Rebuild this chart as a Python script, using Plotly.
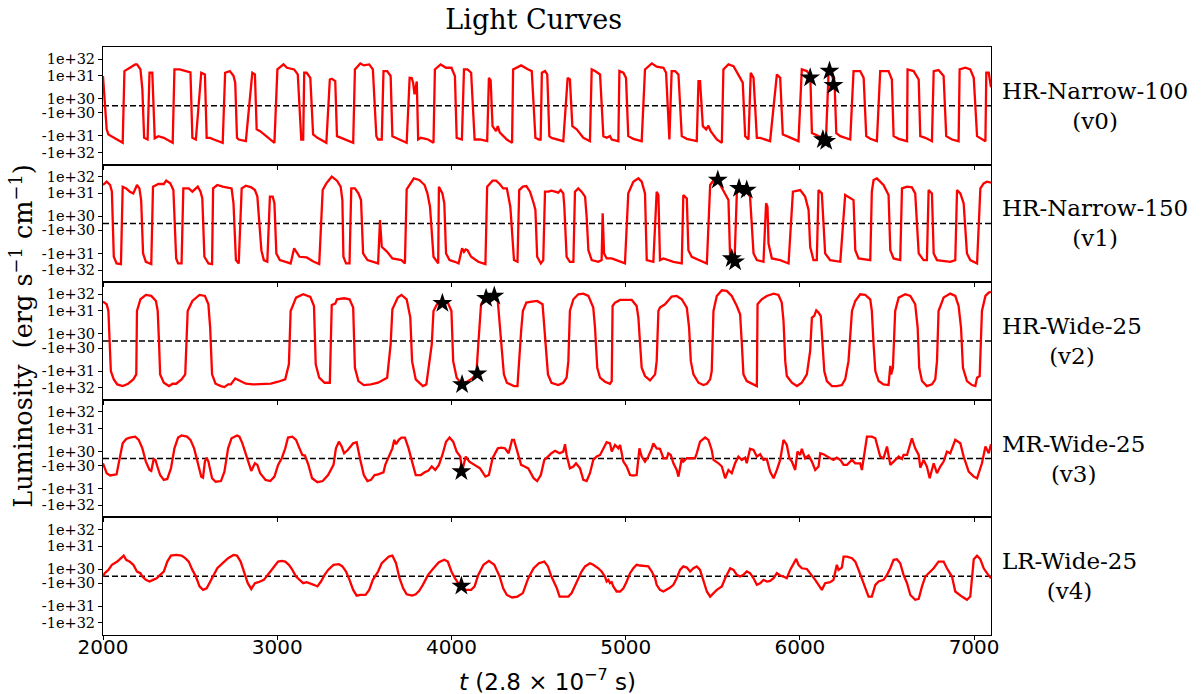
import plotly.graph_objects as go
from plotly.subplots import make_subplots

# Luminosity is stored as a symlog level: +/-1 at +/-1e30, +/-2 at +/-1e31,
# +/-3 at +/-1e32 (linear between -1e30 and 1e30).

t_v0 = [2000, 2021, 2031, 2060, 2113, 2123, 2160, 2185, 2195, 2215, 2226, 2236, 2256, 2267, 2283, 2297, 2318, 2349, 2400,
        2410, 2440, 2470, 2502, 2513, 2533, 2564, 2585, 2595, 2615, 2636, 2687, 2701, 2728, 2749, 2759, 2769, 2779, 2820,
        2857, 2872, 2882, 2902, 2984, 3001, 3036, 3056, 3097, 3118, 3138, 3149, 3155, 3169, 3190, 3206, 3231, 3282, 3302,
        3313, 3333, 3343, 3364, 3436, 3446, 3477, 3497, 3528, 3549, 3569, 3579, 3600, 3610, 3631, 3651, 3661, 3692, 3743,
        3760, 3772, 3780, 3788, 3801, 3809, 3825, 3866, 3897, 3905, 3938, 3969, 4000, 4020, 4030, 4060, 4072, 4092, 4113,
        4133, 4164, 4205, 4215, 4225, 4236, 4256, 4266, 4277, 4318, 4348, 4354, 4400, 4441, 4461, 4482, 4502, 4512, 4519,
        4537, 4550, 4562, 4575, 4642, 4667, 4680, 4694, 4719, 4757, 4795, 4805, 4824, 4853, 4872, 4891, 4910, 4920, 4958,
        4964, 4987, 5002, 5015, 5044, 5092, 5111, 5150, 5178, 5217, 5232, 5251, 5264, 5284, 5303, 5322, 5351, 5408, 5418,
        5427, 5443, 5462, 5475, 5488, 5523, 5552, 5561, 5590, 5619, 5657, 5672, 5686, 5705, 5718, 5734, 5753, 5772, 5829,
        5868, 5887, 5902, 5925, 5992, 6011, 6040, 6060, 6069, 6107, 6136, 6150, 6165, 6184, 6200, 6209, 6232, 6289, 6308,
        6346, 6366, 6381, 6404, 6442, 6461, 6509, 6528, 6538, 6567, 6615, 6618, 6653, 6682, 6691, 6720, 6758, 6768, 6796,
        6825, 6840, 6873, 6911, 6917, 6950, 6978, 6998, 7017, 7045, 7065, 7070, 7084, 7097]
lum_v0 = [1.99, -1.72, -1.94, -2.10, -2.42, 2.28, 2.55, 2.68, 2.68, 2.38, 1.41, -2.12, -2.22, 2.18, 2.18, -2.15, -2.02,
          -2.12, -2.42, 2.38, 2.38, 2.28, 2.20, -2.12, -2.22, 2.18, 2.08, -2.12, -2.12, -2.22, -2.42, 2.18, 2.28, 2.00,
          1.70, -2.12, -2.22, -2.32, 2.18, 2.08, -1.72, -1.80, -2.42, 2.38, 2.68, 2.48, 2.38, 2.08, -2.22, -2.22, 2.18,
          2.18, 1.91, -1.94, -2.12, -2.42, 1.84, 1.87, 1.77, -2.02, -2.12, -2.42, 2.38, 2.74, 2.62, 2.68, 2.38, -2.02,
          -2.22, -2.22, 2.28, 2.28, 1.99, -2.02, -2.18, -2.42, 1.91, 1.90, 1.70, 1.19, 1.75, -2.22, -2.12, -2.22, -2.42,
          2.38, 2.68, 2.48, 2.48, 1.99, -2.12, -2.22, 2.38, 2.38, 2.18, -2.22, -2.22, -2.32, 1.91, 1.80, -1.58, -1.80,
          -1.58, -1.85, -2.22, -2.42, 2.38, 2.62, 2.38, 2.28, -2.12, -2.22, -2.22, 2.18, 2.28, 2.08, -2.02, -2.12, -2.32,
          1.91, 1.84, -1.58, -1.72, -2.12, -2.32, 2.38, 2.28, 2.08, -2.02, -2.12, -2.02, -2.22, -2.32, 2.28, 2.18, 1.91,
          -2.02, -2.18, -2.32, 2.38, 2.74, 2.54, 2.48, 2.18, -2.22, 2.28, 2.28, 2.08, -2.02, -2.18, -2.32, 1.77, 1.77,
          -1.58, -1.72, -1.56, -1.80, -2.22, -2.42, 2.38, 2.68, 2.58, 1.91, 1.70, -2.02, -2.22, 2.18, 1.91, -2.12, -2.12,
          -2.32, 2.08, 1.91, -1.94, -2.02, -2.32, 2.38, 2.28, 2.00, -1.88, -2.02, -2.12, -2.15, 2.28, 2.08, 1.50, -1.88,
          -2.02, -2.22, 2.28, 2.28, 1.91, -2.02, -2.18, -2.32, 2.28, 2.28, 1.84, -2.02, -2.18, -2.32, 2.38, 2.28, 1.84,
          -2.02, -2.12, -2.32, 2.28, 2.34, 1.99, -2.02, -2.22, -2.32, 2.38, 2.48, 2.38, 1.91, -2.02, -2.18, -2.32, 2.18,
          2.18, 1.50]

t_v1 = [2000, 2021, 2041, 2051, 2062, 2078, 2103, 2113, 2133, 2154, 2174, 2195, 2209, 2219, 2230, 2246, 2277, 2287, 2318,
        2349, 2363, 2386, 2404, 2420, 2431, 2451, 2461, 2492, 2513, 2544, 2560, 2570, 2582, 2605, 2626, 2632, 2656, 2687,
        2738, 2749, 2763, 2779, 2796, 2820, 2851, 2872, 2886, 2909, 2923, 2943, 2958, 2974, 2984, 2995, 3015, 3046, 3077,
        3097, 3108, 3128, 3169, 3210, 3241, 3261, 3282, 3313, 3343, 3364, 3374, 3380, 3395, 3415, 3425, 3446, 3466, 3481,
        3493, 3518, 3579, 3590, 3600, 3631, 3661, 3713, 3733, 3743, 3784, 3815, 3846, 3862, 3877, 3897, 3924, 3928, 3948,
        3959, 3969, 3989, 4020, 4041, 4061, 4072, 4082, 4092, 4113, 4154, 4195, 4205, 4236, 4256, 4277, 4297, 4318, 4338,
        4359, 4379, 4389, 4410, 4430, 4451, 4472, 4482, 4492, 4513, 4527, 4537, 4556, 4575, 4594, 4613, 4627, 4642, 4648,
        4661, 4680, 4700, 4709, 4728, 4747, 4767, 4776, 4786, 4805, 4843, 4862, 4868, 4876, 4891, 4920, 4948, 4996, 5015,
        5044, 5073, 5092, 5111, 5121, 5159, 5178, 5188, 5197, 5217, 5274, 5322, 5331, 5351, 5360, 5379, 5427, 5466, 5485,
        5513, 5533, 5561, 5590, 5600, 5605, 5625, 5638, 5657, 5686, 5714, 5734, 5753, 5791, 5806, 5814, 5820, 5839, 5887,
        5935, 5960, 5983, 6002, 6030, 6050, 6059, 6078, 6097, 6107, 6126, 6145, 6174, 6232, 6260, 6289, 6308, 6318, 6337,
        6404, 6413, 6423, 6442, 6480, 6509, 6519, 6538, 6576, 6586, 6615, 6643, 6662, 6682, 6710, 6729, 6739, 6758, 6768,
        6787, 6863, 6892, 6902, 6921, 6940, 6959, 6978, 7017, 7036, 7055, 7074, 7097]
lum_v1 = [2.50, 2.70, 2.50, 2.10, -2.20, -2.60, -2.64, 2.40, 2.30, 2.10, 2.00, 2.50, 2.30, 1.71, -2.00, -2.50, -2.64,
          2.40, 2.56, 2.56, 2.76, 2.60, 2.20, -2.30, -2.60, -2.60, 2.30, 2.30, 2.10, 2.40, 2.10, 1.78, -2.20, -2.60,
          -2.64, 2.30, 2.50, 2.40, 2.30, 1.57, -2.40, -2.60, 2.30, 2.46, 2.36, 2.20, 1.86, -1.86, -2.40, -2.50, 1.86,
          1.86, 1.57, -2.00, -2.40, -2.50, -2.60, -1.78, -1.93, -2.20, -2.24, -2.50, -2.64, 2.20, 2.60, 3.00, 2.76,
          2.40, 1.71, -2.20, -2.60, -2.60, 2.30, 2.30, 2.00, 1.71, -2.00, -2.40, -2.60, 0.48, -1.71, -1.93, -2.30,
          -2.40, -2.60, 2.24, 2.90, 2.80, 2.50, 2.00, 1.42, -2.20, -2.60, 2.40, 2.00, 1.57, -2.00, -2.40, -2.50, -2.60,
          -1.78, -1.93, -1.83, -1.86, -2.20, -2.50, -2.64, 2.40, 2.76, 2.76, 2.56, 2.30, 2.30, 1.42, -2.40, -2.50, 2.20,
          2.40, 2.44, 2.10, 1.57, 1.28, -2.20, -2.60, -2.40, 2.10, 2.10, 2.16, 2.10, 2.04, 2.20, 2.00, 1.42, -2.20,
          -2.50, -2.50, 2.10, 2.30, 2.10, 1.86, 0.95, -1.86, -2.40, -2.50, -2.40, 1.13, -2.00, -2.30, -2.30, -2.40,
          -2.60, 2.00, 2.70, 2.90, 2.70, 2.00, -2.40, -2.50, 2.10, 1.93, -2.40, -2.30, -2.50, -2.60, 1.93, 1.78, -1.86,
          -2.20, -2.40, -2.60, 2.50, 2.90, 2.70, 2.20, 1.71, -2.40, -2.35, -2.45, 2.00, 2.30, 2.20, 1.86, -2.00, -2.40,
          -2.50, 1.57, 1.42, -1.57, -2.30, -2.40, -2.60, 2.10, 2.16, 2.20, 1.86, 1.28, -1.71, -2.40, -2.40, 2.20, 2.00,
          -2.00, -2.40, -2.50, 1.93, 1.78, 1.71, -1.86, -2.30, -2.40, 2.10, 2.80, 2.90, 2.50, 1.93, -1.86, -2.30, -2.40,
          2.30, 2.40, 2.36, 2.00, -2.00, -2.40, -2.40, 2.20, 2.00, -2.00, -2.40, -2.50, -2.40, 2.20, 2.00, 1.57, -2.00,
          -2.40, -2.60, 2.30, 2.60, 2.70, 2.64]

t_v2 = [2000, 2021, 2031, 2041, 2045, 2062, 2082, 2113, 2144, 2174, 2191, 2195, 2215, 2246, 2277, 2304, 2314, 2322, 2328,
        2349, 2379, 2400, 2420, 2451, 2472, 2486, 2513, 2554, 2585, 2605, 2615, 2626, 2646, 2677, 2697, 2718, 2734, 2759,
        2779, 2820, 2861, 2923, 2964, 3005, 3046, 3067, 3077, 3108, 3149, 3190, 3211, 3221, 3241, 3272, 3302, 3313, 3333,
        3343, 3384, 3415, 3436, 3446, 3466, 3497, 3538, 3579, 3631, 3651, 3661, 3692, 3713, 3743, 3764, 3774, 3795, 3836,
        3856, 3887, 3897, 3917, 3948, 3979, 4000, 4010, 4030, 4061, 4113, 4143, 4154, 4170, 4199, 4236, 4266, 4287, 4301,
        4318, 4359, 4379, 4395, 4400, 4410, 4430, 4461, 4492, 4523, 4539, 4554, 4574, 4613, 4642, 4661, 4671, 4680, 4700,
        4728, 4757, 4786, 4814, 4824, 4837, 4853, 4881, 4910, 4920, 4925, 4939, 4968, 5006, 5035, 5063, 5073, 5083, 5092,
        5111, 5140, 5169, 5178, 5188, 5197, 5226, 5245, 5264, 5293, 5322, 5351, 5364, 5374, 5389, 5418, 5446, 5466, 5485,
        5494, 5504, 5523, 5552, 5580, 5609, 5638, 5657, 5667, 5676, 5695, 5734, 5753, 5757, 5781, 5810, 5849, 5877, 5896,
        5906, 5916, 5925, 5954, 5983, 6011, 6040, 6059, 6069, 6082, 6094, 6107, 6120, 6132, 6140, 6155, 6184, 6212, 6241,
        6260, 6279, 6299, 6318, 6346, 6375, 6404, 6413, 6423, 6433, 6452, 6480, 6509, 6519, 6524, 6534, 6547, 6567, 6605,
        6634, 6662, 6676, 6685, 6701, 6729, 6758, 6777, 6787, 6796, 6825, 6863, 6892, 6911, 6925, 6936, 6959, 6988, 7007,
        7017, 7032, 7045, 7065, 7084, 7097]
lum_v2 = [2.56, 2.40, 2.00, -0.48, -2.00, -2.50, -2.80, -2.90, -2.76, -2.50, -2.20, 2.00, 2.70, 2.96, 2.90, 2.60, 2.00,
          -0.48, -2.20, -2.70, -2.90, -2.76, -2.76, -2.50, -2.20, 2.00, 2.60, 2.96, 2.90, 2.40, 1.28, -2.20, -2.76,
          -2.90, -2.96, -2.80, -2.80, -2.44, -2.56, -2.76, -2.80, -2.80, -2.76, -2.64, -2.50, -1.71, 2.00, 2.80, 3.00,
          2.84, 2.30, -1.71, -2.40, -2.70, -2.70, 2.36, 2.44, 2.70, 2.76, 2.70, 2.20, -1.86, -2.60, -2.84, -2.80, -2.70,
          -2.40, -0.48, 2.10, 2.80, 2.96, 2.70, 1.71, -1.57, -2.50, -2.90, -2.80, -0.48, 2.00, 2.40, 2.46, 2.50, 2.00,
          -1.57, -2.40, -2.80, -2.50, -2.20, -0.48, 2.40, 2.80, 2.90, 2.60, -0.48, -2.20, -2.70, -2.90, -2.90, 0.48,
          1.13, 2.00, 2.50, 2.56, 2.60, 2.40, 0.00, -2.20, -2.70, -2.84, -2.70, -2.40, -1.57, 2.00, 2.70, 3.00, 3.04,
          2.90, 2.20, 1.28, -1.86, -2.40, -2.64, -2.76, -2.60, 2.30, 2.50, 2.66, 2.66, 2.66, 2.30, 1.71, -0.48, -1.86,
          -2.30, -2.56, -2.20, -1.57, 2.00, 2.20, 2.40, 2.60, 2.86, 2.90, 2.70, 2.20, 1.28, -1.57, -2.20, -2.70, -2.84,
          -2.76, -2.50, -2.00, 2.00, 2.90, 3.24, 3.20, 2.90, 2.30, 1.86, -0.48, -2.20, -2.60, -2.80, -2.90, 2.40, 2.70,
          2.90, 3.04, 2.96, 2.50, 1.57, -1.57, -2.30, -2.70, -2.90, -2.70, -2.20, -1.13, 1.71, 1.78, 2.04, 1.93, 1.78,
          -0.48, -2.00, -2.60, -2.90, -2.90, -2.84, -2.50, -1.57, 2.00, 2.60, 3.00, 2.96, 2.70, 2.00, -0.48, -2.00,
          -2.60, -2.80, -2.84, -1.78, -2.20, -1.86, 2.00, 2.80, 3.00, 2.90, 2.40, 1.28, -1.86, -2.60, -2.90, -2.80,
          -2.50, -1.57, 2.00, 2.80, 3.04, 2.90, 2.30, 1.28, -1.86, -2.60, -2.84, -2.90, -2.40, -2.30, 2.00, 2.90, 3.10,
          3.14]

t_v3 = [2000, 2021, 2041, 2062, 2078, 2092, 2103, 2113, 2133, 2154, 2185, 2205, 2226, 2246, 2267, 2277, 2291, 2301, 2312,
        2328, 2349, 2369, 2390, 2410, 2431, 2451, 2482, 2502, 2523, 2544, 2564, 2574, 2585, 2595, 2605, 2626, 2646, 2677,
        2697, 2718, 2738, 2769, 2783, 2800, 2820, 2841, 2851, 2872, 2886, 2902, 2933, 2960, 2984, 3005, 3026, 3046, 3062,
        3087, 3108, 3128, 3144, 3159, 3179, 3200, 3231, 3261, 3292, 3323, 3337, 3354, 3370, 3384, 3405, 3436, 3456, 3477,
        3497, 3518, 3538, 3559, 3579, 3610, 3620, 3641, 3661, 3672, 3682, 3698, 3713, 3733, 3754, 3774, 3795, 3825, 3846,
        3866, 3887, 3907, 3928, 3948, 3969, 3989, 4010, 4030, 4051, 4061, 4082, 4103, 4133, 4164, 4195, 4215, 4236, 4266,
        4287, 4307, 4328, 4348, 4359, 4379, 4400, 4420, 4441, 4472, 4492, 4513, 4533, 4554, 4574, 4595, 4621, 4642, 4652,
        4661, 4680, 4700, 4715, 4738, 4757, 4776, 4795, 4814, 4834, 4853, 4872, 4891, 4910, 4920, 4939, 4958, 4968, 4987,
        5006, 5025, 5044, 5063, 5079, 5092, 5111, 5130, 5150, 5159, 5178, 5197, 5217, 5236, 5245, 5259, 5274, 5293, 5303,
        5312, 5322, 5331, 5351, 5379, 5398, 5408, 5427, 5456, 5475, 5494, 5504, 5533, 5552, 5571, 5590, 5609, 5628, 5647,
        5667, 5686, 5695, 5714, 5734, 5753, 5772, 5791, 5810, 5829, 5849, 5868, 5887, 5906, 5925, 5940, 5954, 5973, 5986,
        6002, 6011, 6030, 6050, 6069, 6088, 6107, 6117, 6136, 6155, 6174, 6193, 6212, 6232, 6251, 6270, 6299, 6318, 6346,
        6356, 6375, 6385, 6413, 6433, 6461, 6480, 6500, 6519, 6538, 6567, 6586, 6595, 6615, 6634, 6643, 6662, 6682, 6691,
        6710, 6729, 6745, 6768, 6787, 6806, 6825, 6844, 6863, 6892, 6921, 6940, 6969, 6998, 7017, 7045, 7065, 7084, 7097]
lum_v3 = [-0.67, -1.33, -1.43, -1.41, -1.38, -0.43, 0.76, 1.36, 1.55, 1.61, 1.65, 1.51, 1.14, -0.43, -1.19, -1.23, -0.05,
          -0.19, -1.04, -1.41, -1.62, -1.58, -1.12, 1.14, 1.61, 1.70, 1.65, 1.51, 1.14, -0.43, -1.48, -1.52, -0.43, 0.14,
          -0.43, -1.55, -1.70, -1.67, -1.26, 1.14, 1.58, 1.70, 1.65, 1.36, 0.76, -0.90, -1.23, -0.67, -0.90, -1.33,
          -1.62, -1.67, -1.48, -0.90, 0.05, 1.14, 1.61, 1.65, 1.51, 1.14, 0.52, 0.43, -0.90, -1.55, -1.72, -1.67, -1.41,
          -0.90, 1.14, 1.43, 1.22, 0.76, 1.07, 1.36, 1.41, -0.19, -1.41, -1.67, -1.62, -1.41, -1.38, -1.29, -0.90, 0.29,
          1.14, 1.51, 1.32, 1.51, 1.61, 1.61, 1.14, -0.43, -1.41, -1.41, -1.29, -1.23, -1.04, -1.19, -0.90, 0.52, 1.43,
          1.61, 1.43, 1.00, 0.29, -1.26, 0.29, -0.43, -0.90, -1.12, -1.48, -1.41, 0.05, 1.14, 1.17, 1.14, 0.76, 1.51,
          1.51, 0.76, -0.90, -1.04, -1.12, -1.55, -1.67, -1.41, -0.19, 0.29, 0.76, 1.03, 0.76, 1.00, 1.32, 0.52, -1.12,
          -1.04, -0.67, -1.12, -1.62, -1.67, -1.33, -0.19, 0.29, 0.52, 1.14, 1.41, 1.36, 1.00, 1.29, 1.14, 1.29, -0.43,
          -1.04, -1.41, -1.43, -1.41, 1.14, 0.29, -0.43, 0.29, 1.14, 1.36, 1.14, 1.12, 0.05, 0.05, 0.76, 0.52, -0.67,
          -1.19, -1.48, -1.04, 0.05, -0.43, 0.05, 0.05, 0.05, 0.76, 1.43, 1.61, 1.51, 1.07, -0.19, -0.67, -1.04, -1.55,
          -1.19, -1.33, -0.67, 0.29, -0.19, 0.14, -0.67, 1.12, 1.07, 0.29, 0.62, -0.19, -0.05, -1.26, -1.55, -1.19,
          -0.19, 1.51, 1.29, 0.05, -0.43, -1.19, 1.00, 0.52, 1.12, 0.05, 0.43, -0.43, -1.19, -1.04, 0.76, 0.62, 0.29,
          0.05, -0.19, 0.14, -0.19, -0.90, -0.90, -0.19, -0.67, -0.67, -1.19, 1.07, 1.65, 1.65, 1.58, 0.29, 0.05, 1.22,
          -0.90, -0.43, 0.29, -0.05, 0.52, 0.52, 1.29, 1.58, 1.14, 0.52, -1.09, -0.19, -1.04, -1.55, -0.67, -1.33, -1.04,
          -0.43, 1.00, 0.76, 1.51, 1.36, 0.29, -1.26, -1.48, -1.55, -0.67, 1.22, 0.76, 1.32]

t_v4 = [2000, 2010, 2031, 2051, 2082, 2103, 2119, 2133, 2154, 2174, 2195, 2215, 2226, 2246, 2267, 2287, 2308, 2328, 2349,
        2369, 2390, 2420, 2451, 2472, 2492, 2513, 2533, 2554, 2574, 2595, 2615, 2636, 2656, 2687, 2718, 2749, 2769, 2790,
        2810, 2831, 2851, 2872, 2892, 2923, 2953, 2974, 3005, 3026, 3046, 3067, 3087, 3108, 3128, 3149, 3169, 3190, 3210,
        3231, 3251, 3272, 3292, 3323, 3354, 3374, 3395, 3415, 3436, 3456, 3477, 3507, 3528, 3549, 3579, 3600, 3620, 3641,
        3661, 3682, 3702, 3723, 3743, 3774, 3795, 3815, 3836, 3866, 3897, 3928, 3959, 3979, 4000, 4020, 4051, 4082, 4113,
        4133, 4154, 4184, 4215, 4246, 4277, 4297, 4318, 4348, 4379, 4410, 4441, 4472, 4502, 4533, 4554, 4574, 4605, 4621,
        4642, 4671, 4690, 4709, 4728, 4747, 4767, 4795, 4814, 4843, 4862, 4881, 4891, 4901, 4910, 4920, 4929, 4948, 4968,
        4987, 5006, 5025, 5044, 5063, 5083, 5111, 5130, 5150, 5169, 5178, 5197, 5217, 5236, 5255, 5274, 5293, 5312, 5331,
        5351, 5370, 5389, 5408, 5427, 5446, 5466, 5485, 5504, 5523, 5552, 5571, 5600, 5619, 5638, 5657, 5676, 5695, 5714,
        5734, 5753, 5772, 5791, 5810, 5829, 5849, 5868, 5887, 5906, 5925, 5944, 5963, 5979, 5992, 6011, 6040, 6069, 6088,
        6107, 6126, 6145, 6174, 6193, 6212, 6222, 6241, 6251, 6270, 6299, 6318, 6337, 6356, 6375, 6394, 6413, 6433, 6452,
        6480, 6500, 6519, 6538, 6557, 6576, 6595, 6615, 6634, 6662, 6682, 6701, 6720, 6739, 6768, 6796, 6825, 6844, 6873,
        6892, 6911, 6930, 6959, 6978, 6998, 7017, 7036, 7055, 7074, 7097]
lum_v4 = [-0.05, 0.43, 0.90, 1.19, 1.33, 1.48, 1.59, 1.41, 1.33, 1.19, 0.67, 0.43, -0.05, -0.52, -0.76, -0.52, -0.29,
          0.19, 0.67, 1.33, 1.59, 1.62, 1.59, 1.48, 1.33, 0.90, -0.05, -1.14, -1.29, -1.22, -0.76, 0.19, 1.04, 1.26,
          1.48, 1.62, 1.59, 1.33, 0.67, -1.00, -1.25, -1.00, -0.86, -0.52, 0.43, 1.04, 1.33, 1.36, 1.33, 1.19, 0.90,
          -0.05, -0.52, -1.00, -0.86, -1.00, -1.07, -1.14, -0.76, 0.19, 0.90, 1.19, 1.22, 1.12, 0.67, -0.52, -1.29,
          -1.54, -1.51, -1.51, -1.29, -0.52, 0.67, 1.26, 1.41, 1.55, 1.59, 1.26, -0.29, -1.22, -1.48, -1.54, -1.48,
          -1.33, -1.07, 0.19, 1.04, 1.30, 1.41, 1.33, 0.67, -0.29, -1.14, -1.29, -1.29, -1.14, 0.19, 1.19, 1.36, 1.19,
          -0.05, -1.22, -1.51, -1.62, -1.58, -1.43, -0.29, 1.04, 1.26, 1.33, 1.12, -0.05, -1.22, -1.58, -1.58, -1.58,
          -1.43, -1.14, -0.29, 0.67, 1.12, 1.26, 1.19, 1.04, 0.67, -0.05, -0.76, -0.52, -1.00, -0.86, -1.14, -1.36,
          -1.36, -1.22, -0.76, 0.43, 1.04, 1.19, 1.16, 1.12, 1.12, 0.67, -0.29, -1.07, -1.29, -1.36, -1.29, -1.19,
          -1.07, -0.29, 0.90, 1.12, 1.07, 0.67, 1.04, 1.12, 0.90, -0.76, -1.36, -1.58, -1.43, -1.29, -1.14, -0.29, 1.04,
          0.90, 0.19, -0.05, 0.19, 0.67, 0.43, -0.29, -1.07, -1.00, -0.52, -0.76, -0.67, -0.29, 0.43, 0.10, -0.05,
          -0.29, 0.90, 1.26, 1.45, 1.19, 1.04, 1.01, 0.19, -0.52, -1.07, -1.29, -1.00, -0.86, -0.52, 1.19, 0.90, 1.07,
          1.55, 1.55, 1.48, 1.33, 0.90, -0.29, -1.14, -1.58, -1.58, -1.07, -0.76, -0.52, 0.19, 1.04, 1.41, 1.43, 1.26,
          0.19, -1.00, -1.51, -1.72, -1.68, -1.14, -0.05, 0.43, 1.04, 1.33, 1.33, 1.04, -0.05, -1.36, -1.48, -1.58,
          -1.72, -1.58, 1.43, 1.59, 1.43, 1.04, 0.43, -0.29]

# Flagged events (stars) per run
star_t = {
    "v0": [6059, 6170, 6193, 6132, 6151],
    "v1": [5529, 5651, 5695, 5609, 5628],
    "v2": [3948, 4061, 4149, 4199, 4246],
    "v3": [4057],
    "v4": [4057],
}
star_lum = {
    "v0": [1.91, 2.28, 1.59, -2.22, -2.32],
    "v1": [2.80, 2.30, 2.20, -2.30, -2.50],
    "v2": [2.46, -2.80, -2.16, 2.76, 2.90],
    "v3": [-1.26],
    "v4": [-1.12],
}

run_names = ["HR-Narrow-100", "HR-Narrow-150", "HR-Wide-25", "MR-Wide-25", "LR-Wide-25"]
run_tags = ["v0", "v1", "v2", "v3", "v4"]
tick_levels = [3, 2, 1, -1, -2, -3]
tick_labels = ["1e+32", "1e+31", "1e+30", "-1e+30", "-1e+31", "-1e+32"]
x_ticks = [2000, 3000, 4000, 5000, 6000, 7000]

series_t = [t_v0, t_v1, t_v2, t_v3, t_v4]
series_lum = [lum_v0, lum_v1, lum_v2, lum_v3, lum_v4]


def axis_pos(level):
    """Map a symlog level onto the vertical axis scale (linear core, compressed decades)."""
    a = abs(level)
    if a <= 1:
        v = 7.0 * a
    elif a <= 2:
        v = 7.0 + 23.0 * (a - 1)
    else:
        v = 30.0 + 16.7 * (a - 2)
    return v if level >= 0 else -v


Y_HALF = 58.75
X_MIN, X_MAX = 2000, 7097

fig = make_subplots(rows=5, cols=1, shared_xaxes=True, vertical_spacing=0)

serif = "DejaVu Serif"
sans = "DejaVu Sans"

for i in range(5):
    row = i + 1
    fig.add_trace(go.Scatter(
        x=[X_MIN, X_MAX], y=[0, 0], mode="lines",
        line=dict(color="black", width=1.5, dash="6px,3px"), hoverinfo="skip"),
        row=row, col=1)
    fig.add_trace(go.Scatter(
        x=series_t[i], y=[axis_pos(v) for v in series_lum[i]], mode="lines",
        line=dict(color="#ff0000", width=2.3)),
        row=row, col=1)
    tag = run_tags[i]
    fig.add_trace(go.Scatter(
        x=star_t[tag], y=[axis_pos(v) for v in star_lum[tag]], mode="markers",
        marker=dict(symbol="star", size=15, color="black", line=dict(width=0))),
        row=row, col=1)

    fig.update_yaxes(
        range=[-Y_HALF, Y_HALF], tickvals=[axis_pos(v) for v in tick_levels], ticktext=tick_labels,
        tickfont=dict(family=serif, size=14.5, color="black"),
        ticks="outside", ticklen=4, tickwidth=1, tickcolor="black",
        showline=True, mirror=True, linecolor="black", linewidth=1,
        showgrid=False, zeroline=False, row=row, col=1)
    fig.update_xaxes(
        range=[X_MIN, X_MAX], tickvals=x_ticks,
        tickfont=dict(family=sans, size=20, color="black"),
        ticks="outside", ticklen=4, tickwidth=1, tickcolor="black",
        ticklabelstandoff=-10,
        showline=True, mirror=True, linecolor="black", linewidth=1,
        showgrid=False, zeroline=False, showticklabels=(row == 5), row=row, col=1)

    # run label to the right of each panel
    yd = fig.layout["yaxis" if row == 1 else f"yaxis{row}"].domain
    fig.add_annotation(
        xref="paper", yref="paper", x=1.0105, y=(yd[0] + yd[1]) / 2,
        xanchor="left", yanchor="middle", align="center", showarrow=False,
        text=f"{run_names[i]}<br>({tag})",
        font=dict(family=serif, size=23, color="black"))

fig.add_annotation(
    xref="paper", yref="paper", x=-0.0915, y=0.5085, xanchor="center", yanchor="middle",
    textangle=-90, showarrow=False,
    text="Luminosity  (erg s<sup>−1</sup> cm<sup>−1</sup>)",
    font=dict(family=serif, size=25.5, color="black"))

fig.add_annotation(
    xref="paper", yref="paper", x=0.5, y=-0.077, xanchor="center", yanchor="middle",
    showarrow=False,
    text="<i>t</i> (2.8 × 10<sup>−7</sup> s)",
    font=dict(family=sans, size=23, color="black"))

fig.update_layout(
    width=1202, height=694,
    margin=dict(l=103, r=211, t=47, b=59),
    paper_bgcolor="white", plot_bgcolor="white",
    showlegend=False,
    title=dict(text="Light Curves", x=0.444, xanchor="center", y=0.972, yanchor="middle",
               font=dict(family=serif, size=27, color="black")),
)

fig.write_html("out.html")
